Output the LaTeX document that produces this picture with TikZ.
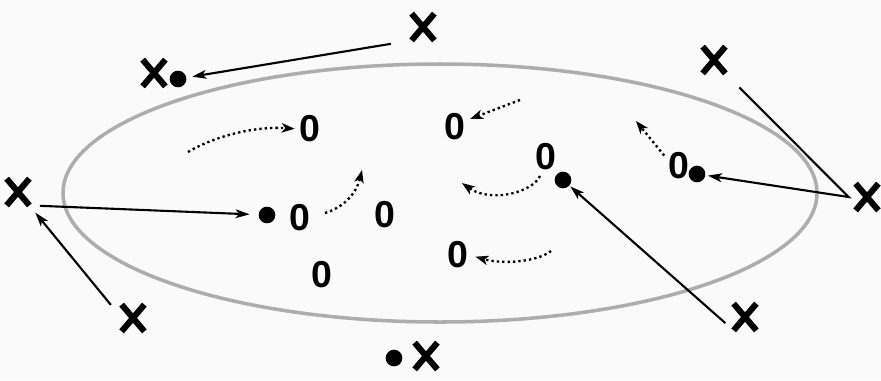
\documentclass[tikz,border=0pt]{standalone}
\usepackage{fontspec}
\setmainfont{Liberation Sans}
\usetikzlibrary{arrows.meta,shapes.misc}
\definecolor{paper}{RGB}{250,250,250}

\begin{document}
\begin{tikzpicture}[
  x=0.03cm, y=-0.03cm,
  xmark/.style={cross out, draw, line width=5.2pt, inner sep=0pt,
                minimum width=0.5cm, minimum height=0.62cm},
  blob/.style={circle, fill, inner sep=0pt, minimum size=0.5cm},
  zero/.style={font=\fontsize{32}{32}\selectfont\bfseries, inner sep=1pt},
  arr/.style={-{Stealth[length=12pt, width=7.5pt, inset=3pt]}, line width=1.8pt},
  drift/.style={-{Stealth[length=11pt, width=8pt, inset=3pt]}, line width=2pt,
                dash pattern=on 2pt off 2.6pt},
  ring/.style={draw=black!32, line width=3pt}
]
  \path[use as bounding box, fill=paper] (0,0) rectangle (881,380);
  \draw[ring] (440,193) ellipse [x radius=377, y radius=129];

  \node[xmark] (x1) at (423,27) {};
  \node[xmark] (x2) at (154,73) {};
  \node[xmark] (x3) at (714,60) {};
  \node[xmark] (x4) at (867,197) {};
  \node[xmark] (x5) at (18,192) {};
  \node[xmark] (x6) at (133,318) {};
  \node[xmark] (x7) at (426,356) {};
  \node[xmark] (x8) at (745,317) {};

  \node[blob] (da) at (178,79) {};
  \node[blob] (db) at (267,215) {};
  \node[blob] (dc) at (563,180) {};
  \node[blob] (dd) at (697,174) {};
  \node[blob] (de) at (394,358) {};

  \node[zero] (z1) at (310,129) {0};
  \node[zero] (z2) at (455,127) {0};
  \node[zero] (z3) at (546,157) {0};
  \node[zero] (z4) at (679,166) {0};
  \node[zero] (z5) at (300,218) {0};
  \node[zero] (z6) at (385,215) {0};
  \node[zero] (z7) at (458,255) {0};
  \node[zero] (z8) at (322,275) {0};

  \draw[arr, shorten <=18pt, shorten >=5pt] (x1.south west) -- (da);
  \draw[arr, shorten <=9pt, shorten >=7.5pt] (x5.south east) -- (db);
  \draw[arr, shorten <=14.5pt, shorten >=8pt] (x6.west) -- (x5.south east);
  \draw[arr, shorten <=9.4pt, shorten >=1pt] (x8.south west) -- (dc);
  \draw[arr, shorten <=17pt, shorten >=2pt]
    (x3.south east) -- ([xshift=-6pt]x4.west) -- (dd);

  \coordinate (m1) at (188,152);
  \coordinate (m2) at (520,100);
  \coordinate (m3) at (540,176);
  \coordinate (m4) at (462,183);
  \coordinate (m5) at (325,213);
  \coordinate (m6) at (362,170);
  \coordinate (m7) at (551,251);
  \coordinate (m8) at (636,121);
  \draw[drift, shorten >=3pt] (m1) .. controls (215,136) and (255,126) .. (z1.west);
  \draw[drift, shorten >=3pt] (m2) -- (z2.30);
  \draw[drift] (m3) .. controls (532,193) and (490,203) .. (m4);
  \draw[drift] (m5) .. controls (342,208) and (356,195) .. (m6);
  \draw[drift, shorten >=5pt] (m7) .. controls (535,263) and (500,264) .. (z7.east);
  \draw[drift, shorten <=4pt] (z4.150) -- (m8);
\end{tikzpicture}
\end{document}
